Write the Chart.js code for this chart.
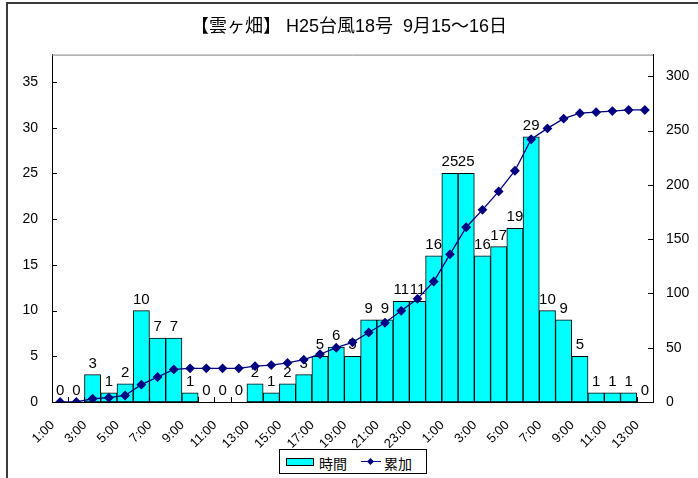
<!DOCTYPE html>
<html>
<head>
<meta charset="utf-8">
<script src="https://cdn.jsdelivr.net/npm/chart.js@4/dist/chart.umd.min.js"></script>
<style>
  body { margin: 0; background: #fff; }
  #wrap { position: relative; width: 698px; height: 478px; overflow: hidden; background: #fff; }
  #c { position: absolute; left: 0; top: 0; }
  .frame { position: absolute; left: 6px; top: 2px; width: 800px; height: 600px;
           border-left: 2px solid #3a3a3a; border-top: 2px solid #3a3a3a; pointer-events: none; }
  .legend { position: absolute; left: 279px; top: 449px; width: 148px; height: 25px; box-sizing: border-box;
            border: 1px solid #000; background: #fff;
            font: 14px "Liberation Sans", "Noto Sans CJK JP", sans-serif; color: #000; }
  .legend span { position: absolute; top: 3px; }
  .swatch { position: absolute; left: 6px; top: 8px; width: 28px; height: 8px; box-sizing: border-box;
            background: #00ffff; border: 1px solid #000; }
  .lline { position: absolute; left: 81px; top: 11px; width: 20px; height: 0; border-top: 1.5px solid #000080; }
  .ldot { position: absolute; left: 88px; top: 9px; width: 5px; height: 5px; background: #000080; transform: rotate(45deg); }
</style>
</head>
<body>
<div id="wrap">
  <canvas id="c" width="698" height="478"></canvas>
  <div class="frame"></div>
  <div class="legend">
    <div class="swatch"></div><span style="left:39px">時間</span>
    <div class="lline"></div><div class="ldot"></div><span style="left:104px">累加</span>
  </div>
</div>
<script>
const labels = ['1:00','2:00','3:00','4:00','5:00','6:00','7:00','8:00','9:00','10:00','11:00','12:00',
  '13:00','14:00','15:00','16:00','17:00','18:00','19:00','20:00','21:00','22:00','23:00','0:00',
  '1:00','2:00','3:00','4:00','5:00','6:00','7:00','8:00','9:00','10:00','11:00','12:00','13:00'];
const hourly = [0,0,3,1,2,10,7,7,1,0,0,0,2,1,2,3,5,6,5,9,9,11,11,16,25,25,16,17,19,29,10,9,5,1,1,1,0];
const cumulative = [0,0,3,4,6,16,23,30,31,31,31,31,33,34,36,39,44,50,55,64,73,84,95,111,136,161,177,194,213,242,252,261,266,267,268,269,269];
const titleText = '【雲ヶ畑】 H25台風18号  9月15～16日';

const fontFam = '"Liberation Sans", "Noto Sans CJK JP", sans-serif';

const decor = {
  id: 'decor',
  beforeDraw(chart) {
    const ctx = chart.ctx;
    ctx.save();
    ctx.fillStyle = '#fff';
    ctx.fillRect(0, 0, chart.width, chart.height);
    ctx.restore();
  },
  beforeDatasetsDraw(chart) {
    const { ctx, chartArea: a, scales } = chart;
    ctx.save();
    ctx.strokeStyle = '#808080';
    ctx.lineWidth = 1;
    ctx.beginPath();
    ctx.moveTo(a.left, a.top + 0.5);
    ctx.lineTo(a.right, a.top + 0.5);
    ctx.stroke();
    ctx.strokeStyle = '#000';
    ctx.beginPath();
    scales.y.ticks.forEach(t => {
      const y = Math.round(scales.y.getPixelForValue(t.value)) + 0.5;
      ctx.moveTo(a.left, y); ctx.lineTo(a.left + 5, y);
    });
    scales.y1.ticks.forEach(t => {
      const y = Math.round(scales.y1.getPixelForValue(t.value)) + 0.5;
      ctx.moveTo(a.right - 5, y); ctx.lineTo(a.right, y);
    });
    const n = labels.length;
    const w = (a.right - a.left) / n;
    for (let i = 1; i < n; i++) {
      const x = Math.round(scales.x.getPixelForValue(i) - w / 2) + 0.5;
      ctx.moveTo(x, a.bottom); ctx.lineTo(x, a.bottom - 5);
    }
    ctx.stroke();
    ctx.restore();
  },
  afterDatasetDraw(chart, args) {
    if (args.index !== 0) return;
    const ctx = chart.ctx;
    ctx.save();
    ctx.font = '15px ' + fontFam;
    ctx.fillStyle = '#000';
    ctx.textAlign = 'center';
    ctx.textBaseline = 'alphabetic';
    args.meta.data.forEach((bar, i) => {
      ctx.fillText(String(hourly[i]), bar.x, bar.y - 7);
    });
    ctx.restore();
  }
};

new Chart(document.getElementById('c').getContext('2d'), {
  data: {
    labels: labels,
    datasets: [{
      type: 'bar',
      label: '時間',
      data: hourly,
      yAxisID: 'y',
      backgroundColor: '#00ffff',
      borderColor: '#000',
      borderWidth: 1,
      borderSkipped: false,
      barPercentage: 1,
      categoryPercentage: 1,
      order: 2
    }, {
      type: 'line',
      label: '累加',
      data: cumulative,
      yAxisID: 'y1',
      borderColor: '#000080',
      borderWidth: 1.3,
      pointStyle: 'rectRot',
      pointRadius: 4,
      pointBackgroundColor: '#000080',
      pointBorderColor: '#000080',
      tension: 0,
      order: 1
    }]
  },
  options: {
    responsive: false,
    devicePixelRatio: 1,
    animation: false,
    layout: { padding: 0 },
    plugins: {
      legend: { display: false },
      tooltip: { enabled: false },
      title: {
        display: true,
        text: titleText,
        color: '#000',
        font: { family: fontFam, size: 18, weight: 'normal' },
        padding: { top: 16, bottom: 17 }
      }
    },
    scales: {
      x: {
        offset: true,
        grid: { display: false, drawTicks: false },
        border: { display: true, color: '#000' },
        ticks: {
          autoSkip: false, minRotation: 45, maxRotation: 45, padding: 8, color: '#000',
          font: { family: fontFam, size: 13 },
          callback: (v, i) => (i % 2 === 0 ? labels[i] + '   ' : '')
        },
        afterFit: s => { s.height = 76; }
      },
      y: {
        position: 'left', min: 0, max: 38,
        grid: { display: false, drawTicks: false },
        border: { display: true, color: '#000' },
        ticks: { stepSize: 5, includeBounds: false, padding: 14, color: '#000', font: { family: fontFam, size: 14 } },
        afterFit: s => { s.width = 52; }
      },
      y1: {
        position: 'right', min: 0, max: 320,
        grid: { display: false, drawTicks: false },
        border: { display: true, color: '#000' },
        ticks: { stepSize: 50, includeBounds: false, padding: 13, color: '#000', font: { family: fontFam, size: 14 } },
        afterFit: s => { s.width = 45; }
      }
    }
  },
  plugins: [decor]
});
</script>
</body>
</html>
